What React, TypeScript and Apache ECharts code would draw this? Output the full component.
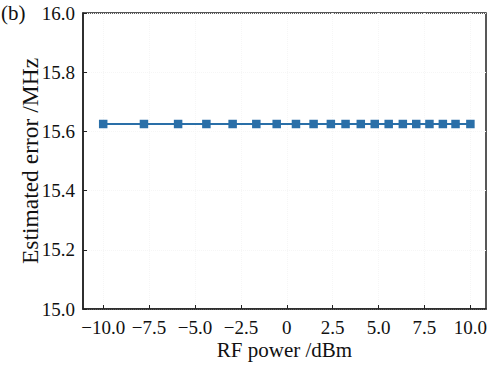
import React, { useEffect, useRef } from "react";
import * as echarts from "echarts";

const rfPower = [-10, -7.78, -5.92, -4.38, -2.95, -1.66, -0.55, 0.5, 1.46, 2.4, 3.2, 4.03, 4.79, 5.55, 6.32, 7.05, 7.77, 8.5, 9.19, 10];
const estimatedError = [15.625, 15.625, 15.625, 15.625, 15.625, 15.625, 15.625, 15.625, 15.625, 15.625, 15.625, 15.625, 15.625, 15.625, 15.625, 15.625, 15.625, 15.625, 15.625, 15.625];
const xTicks = [-10, -7.5, -5, -2.5, 0, 2.5, 5, 7.5, 10];

const FONT = "'Liberation Serif', 'Times New Roman', serif";

export default function App() {
  const ref = useRef<HTMLDivElement>(null);
  useEffect(() => {
    if (!ref.current) return;
    const chart = echarts.init(ref.current, null, { renderer: "svg" });
    const fmt = (v: number) => {
      if (Math.abs(v) < 1e-9) return "0";
      const s = Math.abs(v).toFixed(1);
      return v < 0 ? "\u2212" + s : s;
    };
    chart.setOption({
      animation: false,
      backgroundColor: "#fff",
      grid: {
        left: 83,
        right: 5,
        top: 13,
        bottom: 55,
        show: true,
        borderColor: "#222",
        borderWidth: 1.5,
        containLabel: false,
      },
      graphic: [
        {
          type: "text",
          left: 1,
          top: 2,
          style: { text: "(b)", font: `21px ${FONT}`, fill: "#111" },
        },
      ],
      xAxis: {
        type: "value",
        min: -11.1,
        max: 10.85,
        name: "RF power /dBm",
        nameLocation: "middle",
        nameGap: 30,
        nameMoveOverlap: false,
        nameTextStyle: { fontFamily: FONT, fontSize: 21, color: "#111", verticalAlign: "top", lineHeight: 22 },
        axisLine: { show: true, onZero: false, lineStyle: { color: "#222", width: 1.5 } },
        axisTick: { show: true, inside: true, length: 4, customValues: xTicks, lineStyle: { color: "#222" } },
        axisLabel: {
          customValues: xTicks,
          formatter: fmt,
          fontFamily: FONT,
          fontSize: 19,
          lineHeight: 20,
          color: "#111",
          margin: 8,
        },
        splitLine: { show: true, lineStyle: { color: "#f6f6f6", width: 1, type: "dotted" } },
      },
      yAxis: {
        type: "value",
        min: 15,
        max: 16,
        interval: 0.2,
        name: "Estimated error /MHz",
        nameLocation: "middle",
        nameGap: 53,
        nameMoveOverlap: false,
        nameTextStyle: { fontFamily: FONT, fontSize: 23.5, color: "#111", verticalAlign: "middle" },
        axisLine: { show: true, onZero: false, lineStyle: { color: "#222", width: 1.5 } },
        axisTick: { show: true, inside: true, length: 4, lineStyle: { color: "#222" } },
        axisLabel: {
          formatter: (v: number) => v.toFixed(1),
          fontFamily: FONT,
          fontSize: 19,
          color: "#111",
          margin: 8,
        },
        splitLine: { show: true, lineStyle: { color: "#f6f6f6", width: 1, type: "dotted" } },
      },
      series: [
        {
          type: "line",
          data: rfPower.map((x, i) => [x, estimatedError[i]]),
          symbol: "rect",
          symbolSize: 8.5,
          lineStyle: { color: "#2a6fa8", width: 2 },
          itemStyle: { color: "#2a6fa8" },
        },
      ],
    });
    return () => chart.dispose();
  }, []);
  return (
    <div
      ref={ref}
      style={{ position: "fixed", left: 0, top: 0, width: 491, height: 366 }}
    />
  );
}
